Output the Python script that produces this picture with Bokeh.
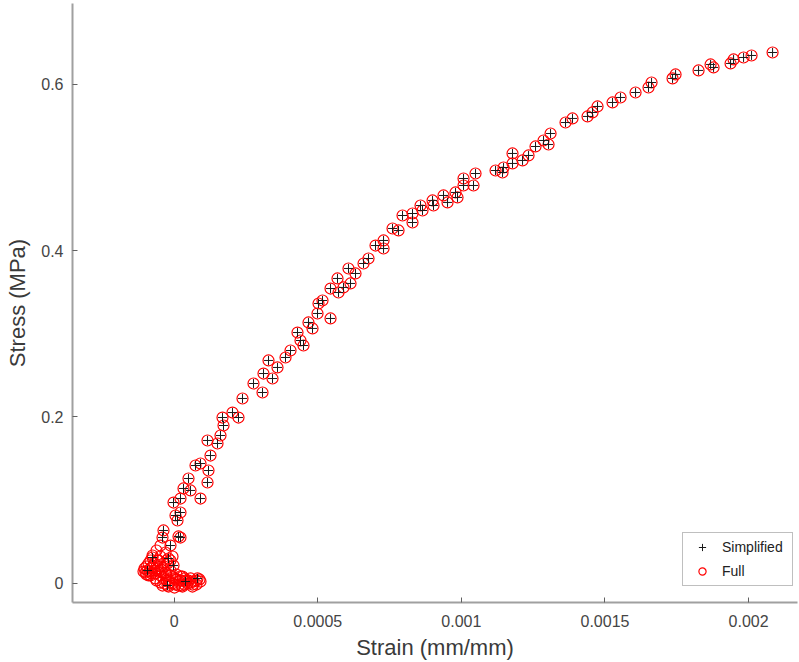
from bokeh.plotting import figure
from bokeh.models import Range1d, FixedTicker, Legend, LegendItem, PrintfTickFormatter
from bokeh.embed import file_html
from bokeh.resources import INLINE

# ---- data ----
simplified_strain = [
    0.0000150, -0.0000373, -0.0000407, -0.0000755, -0.0000198, -0.0000024, -0.0000930,
    0.0000811, -0.0000233, 0.0000393, -0.0000129, 0.0000219, 0.0000115, 0.0000045,
    0.0000219, -0.0000024, 0.0000219, 0.0000916, 0.0000324, 0.0000568, 0.0000498,
    0.0001160, 0.0000742, 0.0000916, 0.0001194, 0.0001264, 0.0001160, 0.0001508,
    0.0001612, 0.0001682, 0.0001717, 0.0002030, 0.0002239, 0.0002378, 0.0002761,
    0.0003075, 0.0003109, 0.0003284, 0.0003423, 0.0003597, 0.0003876, 0.0004050,
    0.0004293, 0.0004398, 0.0004502, 0.0004676, 0.0004816, 0.0004990, 0.0005025,
    0.0005164, 0.0005443, 0.0005443, 0.0005686, 0.0005721, 0.0005895, 0.0006069,
    0.0006139, 0.0006313, 0.0006592, 0.0006766, 0.0007010, 0.0007289, 0.0007289,
    0.0007602, 0.0007811, 0.0007950, 0.0008298, 0.0008298, 0.0008577, 0.0008646,
    0.0008995, 0.0009029, 0.0009377, 0.0009517, 0.0009795, 0.0009865, 0.0010074,
    0.0010074, 0.0010422, 0.0010492, 0.0011189, 0.0011432, 0.0011467, 0.0011780,
    0.0011780, 0.0012129, 0.0012338, 0.0012581, 0.0012860, 0.0013034, 0.0013104,
    0.0013626, 0.0013869, 0.0014392, 0.0014566, 0.0014740, 0.0015262, 0.0015541,
    0.0016064, 0.0016516, 0.0016621, 0.0017352, 0.0017457, 0.0018258, 0.0018676,
    0.0018780, 0.0019372, 0.0019477, 0.0019825, 0.0020103, 0.0020835,
]
simplified_stress = [
    0.0562, 0.0634, 0.0549, 0.0309, 0.0297, 0.0213, 0.0153,
    0.0057, -0.0028, 0.0020, 0.0453, 0.0549, 0.0754, 0.0814,
    0.0850, 0.0970, 0.1018, 0.1018, 0.1139, 0.1115, 0.1259,
    0.1211, 0.1415, 0.1439, 0.1355, 0.1535, 0.1716, 0.1680,
    0.1776, 0.1992, 0.1896, 0.2052, 0.1992, 0.2221, 0.2401,
    0.2293, 0.2521, 0.2678, 0.2461, 0.2594, 0.2714, 0.2798,
    0.3014, 0.2918, 0.2858, 0.3135, 0.3063, 0.3243, 0.3363,
    0.3399, 0.3183, 0.3543, 0.3664, 0.3495, 0.3556, 0.3784,
    0.3604, 0.3724, 0.3844, 0.3904, 0.4060, 0.4024, 0.4121,
    0.4265, 0.4241, 0.4421, 0.4337, 0.4445, 0.4541, 0.4481,
    0.4602, 0.4541, 0.4662, 0.4578, 0.4698, 0.4638, 0.4782,
    0.4866, 0.4782, 0.4926, 0.4962, 0.4938, 0.4998, 0.5047,
    0.5167, 0.5083, 0.5143, 0.5251, 0.5323, 0.5275, 0.5407,
    0.5539, 0.5588, 0.5612, 0.5660, 0.5732, 0.5780, 0.5840,
    0.5900, 0.5960, 0.6020, 0.6069, 0.6117, 0.6165, 0.6237,
    0.6201, 0.6249, 0.6297, 0.6321, 0.6345, 0.6381,
]

# additional points of the full record (dense cluster near the origin)
full_extra_strain = [
    -0.0000477, -0.0000616, -0.0000755, -0.0000825, -0.0000895, -0.0000965, -0.0001034,
    -0.0000999, -0.0000895, -0.0000790, -0.0000686, -0.0000581, -0.0000477, -0.0000373,
    -0.0000268, -0.0000477, -0.0000373, -0.0000268, -0.0000164, -0.0000059, 0.0000045,
    0.0000150, 0.0000254, 0.0000359, 0.0000463, 0.0000568, 0.0000672, 0.0000776,
    0.0000881, 0.0000045, 0.0000219, -0.0000129, -0.0000303, -0.0000547, -0.0000651,
    -0.0000407, -0.0000198, 0.0000010, 0.0000393, 0.0000568, -0.0000825, -0.0000129,
    0.0000080, 0.0000916, -0.0001069, 0.0000636, 0.0000290,
    -0.0000825, -0.0000651, -0.0000547, -0.0000442, -0.0000338, -0.0000233, -0.0000129,
    -0.0000059, -0.0000303, -0.0000477, -0.0000581, -0.0000686, -0.0000755, -0.0000860,
    -0.0000965, -0.0000616, -0.0000477, -0.0000338, -0.0000198, -0.0000059, 0.0000080,
    0.0000219, 0.0000359, 0.0000498, 0.0000637, 0.0000776, 0.0000289, 0.0000150,
    -0.0000268, -0.0000407,
]
full_extra_stress = [
    0.0453, 0.0393, 0.0333, 0.0273, 0.0237, 0.0201, 0.0177,
    0.0129, 0.0093, 0.0117, 0.0153, 0.0177, 0.0201, 0.0237,
    0.0273, 0.0093, 0.0057, 0.0032, 0.0008, -0.0004, -0.0016,
    -0.0028, -0.0028, -0.0016, -0.0004, 0.0008, 0.0020, 0.0032,
    0.0045, 0.0057, 0.0032, 0.0093, 0.0129, 0.0273, 0.0057,
    -0.0028, -0.0040, -0.0052, 0.0032, 0.0057, 0.0177, 0.0153,
    0.0105, 0.0020, 0.0140, -0.0040, 0.0080,
    0.0093, 0.0117, 0.0141, 0.0165, 0.0201, 0.0237, 0.0273,
    0.0321, 0.0369, 0.0321, 0.0273, 0.0237, 0.0201, 0.0141,
    0.0105, 0.0032, 0.0008, -0.0004, 0.0044, 0.0069, 0.0044,
    0.0081, 0.0057, 0.0032, -0.0016, -0.0016, -0.0040, 0.0020,
    0.0093, 0.0129,
]

full_strain = simplified_strain + full_extra_strain
full_stress = simplified_stress + full_extra_stress

x_ticks = [0, 0.0005, 0.001, 0.0015, 0.002]
x_tick_labels = ["0", "0.0005", "0.001", "0.0015", "0.002"]
y_ticks = [0, 0.2, 0.4, 0.6]
y_tick_labels = ["0", "0.2", "0.4", "0.6"]

FONT = "Liberation Sans"

p = figure(
    width=799, height=662,
    output_backend="svg", toolbar_location=None,
    x_range=Range1d(-0.0003541, 0.0021703),
    y_range=Range1d(-0.0232, 0.6970),
    min_border_left=72, min_border_right=2, min_border_top=3, min_border_bottom=60,
    background_fill_color="white", border_fill_color="white",
)
p.outline_line_color = None
p.grid.visible = False

r_full = p.scatter(full_strain, full_stress, marker="circle", size=11,
                   fill_color=None, line_color="#ff0000", line_width=1.2)
r_simp = p.scatter(simplified_strain, simplified_stress, marker="cross", size=9,
                   line_color="#1a1a1a", line_width=1)

for ax, ticks, labels in ((p.xaxis[0], x_ticks, x_tick_labels), (p.yaxis[0], y_ticks, y_tick_labels)):
    ax.ticker = FixedTicker(ticks=ticks)
    ax.formatter = PrintfTickFormatter(format="%g")
    ax.major_label_overrides = {t: l for t, l in zip(ticks, labels)}
    ax.axis_line_color = "#a0a0a0"
    ax.axis_line_width = 2
    ax.major_tick_in = 5
    ax.major_tick_out = 0
    ax.major_tick_line_color = "#606060"
    ax.minor_tick_line_color = None
    ax.major_label_text_font = FONT
    ax.major_label_text_font_size = "16px"
    ax.major_label_text_color = "#454545"
    ax.axis_label_text_font = FONT
    ax.axis_label_text_font_size = "22px"
    ax.axis_label_text_font_style = "normal"
    ax.axis_label_text_color = "#3a3a3a"

p.xaxis.axis_label = "Strain (mm/mm)"
p.yaxis.axis_label = "Stress (MPa)"
p.xaxis.major_label_standoff = 12
p.xaxis.axis_label_standoff = 5
p.yaxis.major_label_standoff = 9
p.yaxis.axis_label_standoff = 8

legend = Legend(
    items=[LegendItem(label="Simplified", renderers=[r_simp]),
           LegendItem(label="Full", renderers=[r_full])],
    location=(610, 16),
    label_text_font=FONT, label_text_font_size="14px", label_text_color="#222222",
    border_line_color="#808080", border_line_width=1,
    background_fill_color="white", background_fill_alpha=1,
    padding=5, spacing=6, glyph_height=18, glyph_width=28,
    label_standoff=6, label_width=65, label_height=18, margin=0,
)
p.add_layout(legend)

open("out.html", "w").write(file_html(p, INLINE))
